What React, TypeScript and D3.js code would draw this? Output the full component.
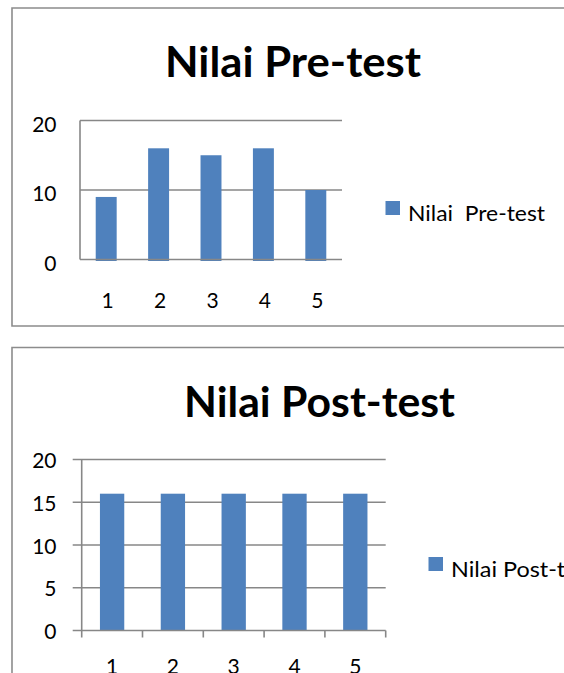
import React, { useEffect, useRef } from 'react'
import * as d3 from 'd3'

const categories = ['1', '2', '3', '4', '5']
const preTestValues = [9, 16, 15, 16, 10]
const postTestValues = [16, 16, 16, 16, 16]
const preTicks = [0, 10, 20]
const postTicks = [0, 5, 10, 15, 20]

const BAR = '#4f81bd'
const GRID = '#878787'
const FONT = 'Lato, "Open Sans", sans-serif'

function drawChart(svg, cfg) {
  const g = svg.append('g')

  // chart border (right side runs off the page)
  g.append('path')
    .attr('d', `M600,${cfg.top} H12 V${cfg.bottom} H600`)
    .attr('fill', 'none')
    .attr('stroke', '#8c8c8c')
    .attr('stroke-width', 1.6)

  // title
  g.append('text')
    .attr('x', cfg.titleX)
    .attr('y', cfg.titleY)
    .attr('textLength', cfg.titleW)
    .attr('lengthAdjust', 'spacingAndGlyphs')
    .style('font-family', FONT)
    .style('font-weight', 700)
    .style('font-size', '42px')
    .style('fill', '#000')
    .text(cfg.title)

  const x = d3.scaleBand()
    .domain(categories)
    .range(cfg.xRange)
    .paddingInner(0.6)
    .paddingOuter(0.3)

  const y = d3.scaleLinear()
    .domain([0, 20])
    .range(cfg.yRange)

  const left = cfg.xRange[0]
  const right = cfg.xRange[1]
  const tickLen = cfg.ticks ? 9 : 0

  // gridlines
  g.selectAll('.grid')
    .data(cfg.yTicks.filter(d => d > 0))
    .enter()
    .append('line')
    .attr('x1', left - tickLen)
    .attr('x2', right)
    .attr('y1', d => y(d))
    .attr('y2', d => y(d))
    .attr('stroke', GRID)
    .attr('stroke-width', 1.6)

  // bars
  g.selectAll('.bar')
    .data(cfg.values)
    .enter()
    .append('rect')
    .attr('x', (d, i) => x(categories[i]))
    .attr('y', d => y(d))
    .attr('width', x.bandwidth())
    .attr('height', d => y(0) - y(d) + (cfg.ticks ? 0 : 1.5))
    .attr('fill', BAR)

  // axis lines
  g.append('line')
    .attr('x1', left - tickLen)
    .attr('x2', right)
    .attr('y1', y(0))
    .attr('y2', y(0))
    .attr('stroke', GRID)
    .attr('stroke-width', 1.6)

  g.append('line')
    .attr('x1', left)
    .attr('x2', left)
    .attr('y1', y(20))
    .attr('y2', y(0) + (cfg.ticks ? 7 : 0))
    .attr('stroke', GRID)
    .attr('stroke-width', 1.6)

  if (cfg.ticks) {
    const step = x.step()
    const bounds = categories.map((c, i) => left + i * step).concat([right])
    g.selectAll('.xtick')
      .data(bounds.slice(1))
      .enter()
      .append('line')
      .attr('x1', d => d)
      .attr('x2', d => d)
      .attr('y1', y(0))
      .attr('y2', y(0) + 7)
      .attr('stroke', GRID)
      .attr('stroke-width', 1.6)
  }

  // y labels
  g.selectAll('.ylab')
    .data(cfg.yTicks)
    .enter()
    .append('text')
    .attr('x', 56.5)
    .attr('y', d => y(d) + cfg.yLabDy)
    .attr('text-anchor', 'end')
    .style('font-family', FONT)
    .style('font-size', '21px')
    .style('fill', '#000')
    .text(d => d)

  // x labels
  g.selectAll('.xlab')
    .data(categories)
    .enter()
    .append('text')
    .attr('x', d => x(d) + x.bandwidth() / 2 + cfg.xLabDx)
    .attr('y', cfg.xLabY)
    .attr('text-anchor', 'middle')
    .style('font-family', FONT)
    .style('font-size', '21px')
    .style('fill', '#000')
    .text(d => d)

  // legend
  g.append('rect')
    .attr('x', cfg.legendX)
    .attr('y', cfg.legendY)
    .attr('width', 14.5)
    .attr('height', 14)
    .attr('fill', BAR)

  g.append('text')
    .attr('x', cfg.legendX + 22.5)
    .attr('y', cfg.legendY + 19.5)
    .attr('textLength', cfg.legendW)
    .attr('lengthAdjust', 'spacingAndGlyphs')
    .attr('xml:space', 'preserve')
    .style('white-space', 'pre')
    .style('font-family', FONT)
    .style('font-size', '21px')
    .style('fill', '#000')
    .text(cfg.legend)
}

export default function App() {
  const ref = useRef(null)

  useEffect(() => {
    const svg = d3.select(ref.current)
    svg.selectAll('*').remove()

    drawChart(svg, {
      top: 8, bottom: 326,
      title: 'Nilai Pre-test', titleX: 165, titleY: 77, titleW: 256,
      values: preTestValues, yTicks: preTicks,
      xRange: [80, 342], yRange: [259.5, 120.5],
      ticks: false, yLabDy: 11, xLabDx: 1.5, xLabY: 308,
      legend: 'Nilai  Pre-test', legendX: 385.5, legendY: 201, legendW: 137
    })

    drawChart(svg, {
      top: 347.5, bottom: 700,
      title: 'Nilai Post-test', titleX: 184, titleY: 417, titleW: 271,
      values: postTestValues, yTicks: postTicks,
      xRange: [81.7, 385.7], yRange: [630.5, 459.5],
      ticks: true, yLabDy: 8.7, xLabDx: 0, xLabY: 673.5,
      legend: 'Nilai Post-test', legendX: 428.5, legendY: 557, legendW: 145
    })
  }, [])

  return (
    <svg
      ref={ref}
      width={564}
      height={673}
      style={{ position: 'absolute', left: 0, top: 0, background: '#fff' }}
    />
  )
}
